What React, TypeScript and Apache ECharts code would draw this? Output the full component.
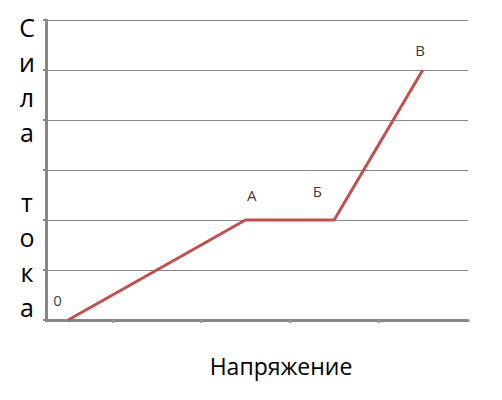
import React, { useEffect, useRef } from "react";
import * as echarts from "echarts";

// Current–voltage curve: points 0 → А → Б → В
const curveX = [0.25, 2.25, 3.25, 4.25];
const curveY = [0, 2, 2, 5];

// Point captions and where they sit (data units)
const pointNames = ["0", "А", "Б", "В"];
const nameX = [0.13, 2.32, 3.06, 4.22];
const nameY = [0.4, 2.5, 2.58, 5.4];

const xTickValues = [0.75, 1.75, 2.75, 3.75];
const yAxisTitle = ["С", "и", "л", "а", "", "т", "о", "к", "а"];
const xAxisTitle = "Напряжение";

export default function App() {
  const ref = useRef<HTMLDivElement>(null);

  useEffect(() => {
    if (!ref.current) return;
    const chart = echarts.init(ref.current, null, { renderer: "svg" });
    const font = "'Open Sans', 'Noto Sans', sans-serif";
    chart.setOption({
      animation: false,
      backgroundColor: "#ffffff",
      grid: { left: 46, right: 34, top: 20, bottom: 80, containLabel: false },
      xAxis: {
        type: "value",
        min: 0,
        max: 4.76,
        axisLine: { show: true, lineStyle: { color: "#878787", width: 3 } },
        axisTick: {
          show: true,
          customValues: xTickValues,
          length: 3,
          lineStyle: { color: "#9a9a9a", width: 2 },
        },
        axisLabel: { show: false },
        splitLine: { show: false },
      },
      yAxis: {
        type: "value",
        min: 0,
        max: 6,
        interval: 1,
        axisLine: { show: true, lineStyle: { color: "#878787", width: 3 } },
        axisTick: { show: true, length: 3, lineStyle: { color: "#878787", width: 2 } },
        axisLabel: { show: false },
        splitLine: { show: true, lineStyle: { color: "#888888", width: 1 } },
      },
      series: [
        {
          type: "line",
          data: curveX.map((x, i) => [x, curveY[i]]),
          symbol: "none",
          lineStyle: { color: "#c0504d", width: 3 },
          z: 3,
        },
        {
          type: "scatter",
          data: nameX.map((x, i) => ({ value: [x, nameY[i]], name: pointNames[i] })),
          symbolSize: 0,
          silent: true,
          label: {
            show: true,
            position: "inside",
            formatter: (p: any) => p.name,
            color: "#000000",
            fontSize: 15,
            fontFamily: font,
          },
          z: 4,
        },
      ],
      graphic: [
        {
          type: "text",
          x: 27,
          y: 9,
          style: {
            text: yAxisTitle.join("\n"),
            fontSize: 25,
            lineHeight: 35,
            fontFamily: font,
            fill: "#000000",
            align: "center",
            verticalAlign: "top",
          },
        },
        {
          type: "text",
          x: 281,
          y: 366,
          style: {
            text: xAxisTitle,
            fontSize: 23,
            fontFamily: font,
            fill: "#000000",
            align: "center",
            verticalAlign: "middle",
          },
        },
      ],
    });
    return () => chart.dispose();
  }, []);

  return <div ref={ref} style={{ width: 502, height: 400, position: "absolute", left: 0, top: 0 }} />;
}
